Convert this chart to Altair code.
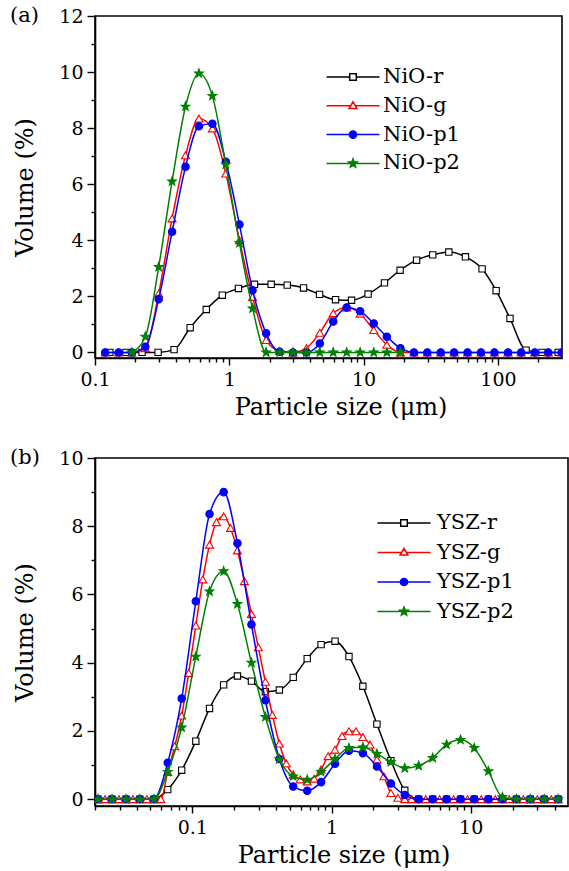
import math
import altair as alt
import pandas as pd

# ---------------- data ----------------
NIO_SERIES = ["NiO-r", "NiO-g", "NiO-p1", "NiO-p2"]
YSZ_SERIES = ["YSZ-r", "YSZ-g", "YSZ-p1", "YSZ-p2"]

nio_r_size = [0.129, 0.17, 0.224, 0.295, 0.388, 0.511, 0.674, 0.887, 1.17, 1.54,
              2.05, 2.70, 3.57, 4.70, 6.18, 8.13, 10.8, 14.3, 18.7, 24.8,
              32.7, 43.1, 57.3, 76.2, 97, 123, 162, 213, 281]
nio_r_vol = [0, 0, 0, 0, 0.1, 0.88, 1.53, 2.04, 2.28, 2.43,
             2.43, 2.4, 2.3, 2.07, 1.88, 1.86, 2.08, 2.48, 2.93, 3.29,
             3.48, 3.58, 3.41, 2.98, 2.2, 1.21, 0.08, 0, 0]

nio_size = [0.119, 0.15, 0.188, 0.237, 0.298, 0.375, 0.472, 0.594, 0.748, 0.942,
            1.19, 1.49, 1.88, 2.37, 2.98, 3.75, 4.72, 5.94, 7.48, 9.42,
            11.9, 14.9, 18.8, 23.7, 29.8, 37.5, 47.2, 59.4, 74.8, 94.2,
            119, 149, 188, 237, 298]
nio_g_vol = [0, 0, 0, 0.15, 2.1, 4.78, 7.03, 8.34, 7.99, 6.38,
             4.0, 1.98, 0.44, 0.05, 0, 0.15, 0.7, 1.4, 1.6, 1.38,
             0.8, 0.27, 0, 0, 0, 0, 0, 0, 0, 0,
             0, 0, 0, 0, 0]
nio_p1_vol = [0, 0, 0, 0.2, 1.9, 4.3, 6.62, 8.07, 8.16, 6.8,
              4.56, 2.22, 0.68, 0.02, 0, 0, 0.32, 1.1, 1.6, 1.47,
              1.03, 0.56, 0.15, 0, 0, 0, 0, 0, 0, 0,
              0, 0, 0, 0, 0]
nio_p2_size = [0.188, 0.237, 0.298, 0.375, 0.472, 0.594, 0.748, 0.942, 1.19, 1.49,
               1.88, 2.37, 2.98, 3.75, 4.72, 5.94, 7.48, 9.42, 11.9, 14.9, 18.8]
nio_p2_vol = [0, 0.56, 3.05, 6.1, 8.77, 9.95, 9.15, 6.7, 3.9, 1.57,
              0, 0, 0, 0, 0, 0, 0, 0, 0, 0, 0]

ysz_size = [0.021, 0.0265, 0.0334, 0.042, 0.053, 0.0666, 0.0839, 0.106, 0.133, 0.168,
            0.211, 0.266, 0.335, 0.422, 0.531, 0.669, 0.842, 1.06, 1.335, 1.68,
            2.12, 2.67, 3.36, 4.23, 5.33, 6.71, 8.45, 10.6, 13.4, 16.9,
            21.3, 26.8, 33.7, 42.5]
ysz_r_vol = [0, 0, 0, 0, 0, 0.28, 0.85, 1.7, 2.66, 3.35,
             3.61, 3.46, 3.15, 3.2, 3.57, 4.12, 4.53, 4.63, 4.18, 3.31,
             2.2, 1.13, 0.26, 0, 0, 0, 0, 0, 0, 0,
             0, 0, 0, 0]
ysz_p1_vol = [0, 0, 0, 0, 0, 1.07, 2.95, 5.8, 8.36, 9.0,
              7.5, 5.12, 2.9, 1.18, 0.37, 0.25, 0.5, 1.04, 1.42, 1.35,
              0.96, 0.46, 0.12, 0, 0, 0, 0, 0, 0, 0,
              0, 0, 0, 0]
ysz_p2_vol = [0, 0, 0, 0, 0, 0.8, 2.1, 4.18, 6.09, 6.68,
              5.72, 4.0, 2.41, 1.17, 0.67, 0.57, 0.8, 1.18, 1.5, 1.52,
              1.33, 1.09, 0.91, 0.98, 1.21, 1.6, 1.74, 1.5, 0.82, 0.06,
              0, 0, 0, 0]
ysz_g_size = [0.021, 0.0236, 0.0265, 0.0297, 0.0334, 0.0374, 0.042, 0.0471, 0.053, 0.0594,
              0.0666, 0.0748, 0.0839, 0.0942, 0.106, 0.119, 0.133, 0.149, 0.168, 0.188,
              0.211, 0.237, 0.266, 0.298, 0.335, 0.376, 0.422, 0.473, 0.531, 0.596,
              0.669, 0.75, 0.842, 0.945, 1.06, 1.19, 1.335, 1.5, 1.68, 1.89,
              2.12, 2.38, 2.67, 3.0, 3.36, 3.77, 4.23, 4.75, 5.33, 5.98,
              6.71, 7.53, 8.45, 9.48, 10.6, 11.9, 13.4, 15.0, 16.9, 18.9,
              21.3, 23.9, 26.8, 30.1, 33.7, 37.9, 42.5]
ysz_g_vol = [0, 0, 0, 0, 0, 0, 0, 0, 0, 0,
             0.8, 1.55, 2.45, 3.7, 5.09, 6.44, 7.46, 8.12, 8.29, 7.95,
             7.29, 6.39, 5.43, 4.45, 3.44, 2.47, 1.63, 1.05, 0.72, 0.58,
             0.52, 0.6, 0.87, 1.26, 1.45, 1.85, 1.99, 1.99, 1.82, 1.6,
             1.16, 0.67, 0.18, 0.04, 0, 0, 0, 0, 0, 0,
             0, 0, 0, 0, 0, 0, 0, 0, 0, 0,
             0, 0, 0, 0, 0, 0, 0]

nio_x_ticks = [0.1, 0.2, 0.3, 0.4, 0.5, 0.6, 0.7, 0.8, 0.9,
               1, 2, 3, 4, 5, 6, 7, 8, 9,
               10, 20, 30, 40, 50, 60, 70, 80, 90,
               100, 200]
ysz_x_ticks = [0.02, 0.03, 0.04, 0.05, 0.06, 0.07, 0.08, 0.09,
               0.1, 0.2, 0.3, 0.4, 0.5, 0.6, 0.7, 0.8, 0.9,
               1, 2, 3, 4, 5, 6, 7, 8, 9,
               10, 20, 30, 40]
nio_y_ticks = list(range(0, 13))
ysz_y_ticks = list(range(0, 11))

# ---------------- styling ----------------
FONT = "DejaVu Serif"
COLORS = ["black", "#ff0000", "#0000ff", "#008000"]


def star_path(r_out, r_in):
    pts = []
    for k in range(10):
        ang = -math.pi / 2 + k * math.pi / 5
        r = r_out if k % 2 == 0 else r_in
        pts.append(f"{r * math.cos(ang):.3f},{r * math.sin(ang):.3f}")
    return "M" + "L".join(pts) + "Z"


STAR = star_path(1.0, 0.42)
MARKERS = [
    dict(shape="square", size=40, fill="white"),
    dict(shape="triangle-up", size=64, fill="white"),
    dict(shape="circle", size=55, fill=COLORS[2]),
    dict(shape=STAR, size=85, fill=COLORS[3]),
]

# legend symbols: a line with the marker in the middle; symbol unit = 10 px
L = 2.65
q = 0.33
tw = 0.236
c = 0.36
LEG_PATHS = [
    f"M{-L},0H{-q}M{q},0H{L}M{-q},{-q}H{q}V{q}H{-q}Z",
    f"M{-L},0H{-tw}M{tw},0H{L}M0,-0.4L0.39,0.26L-0.39,0.26Z",
    f"M{-L},0H{L}M{c},0A{c},{c} 0 1,1 {-c},0A{c},{c} 0 1,1 {c},0Z",
    f"M{-L},0H{L}" + star_path(0.45, 0.19),
]
LEG_FILLS = ["white", "white", COLORS[2], COLORS[3]]


def is_decade(field="datum.value"):
    return f"abs(log({field})/LN10 - round(log({field})/LN10)) < 0.001"


def panel(series, sizes_list, vols_list, xdom, xticks, ydom, yticks,
          width, height, tag, legx, legy, rowpad, laboff):
    x_enc = alt.X(
        "size:Q",
        scale=alt.Scale(type="log", domain=xdom, nice=False),
        axis=alt.Axis(
            values=xticks, format="~g",
            labelExpr=f"{is_decade()} ? datum.label : ''",
            tickSize={"condition": {"test": is_decade(), "value": 7}, "value": 4},
            labelFlush=False, labelOverlap=False, labelBound=False,
            labelPadding=5,
            title="Particle size (μm)",
            titleX=width / 2 + 12, titleY=56, titleBaseline="alphabetic",
            titleAlign="center",
        ),
    )
    y_enc = alt.Y(
        "vol:Q",
        scale=alt.Scale(domain=ydom, nice=False, zero=False),
        axis=alt.Axis(
            values=yticks,
            labelExpr="datum.value % 2 === 0 ? datum.label : ''",
            tickSize={"condition": {"test": "datum.value % 2 === 0", "value": 8}, "value": 4},
            labelFlush=False, labelOverlap=False, labelBound=False,
            labelPadding=4,
            title="Volume (%)",
            titleX=-63, titleY=height / 2, titleBaseline="alphabetic",
            titleAlign="center", titleAngle=270,
        ),
    )
    layers = []
    for i, name in enumerate(series):
        df = pd.DataFrame({"size": sizes_list[i], "vol": vols_list[i]})
        base = alt.Chart(df)
        layers.append(
            base.mark_line(color=COLORS[i], strokeWidth=1.5, interpolate="monotone", clip=True)
            .encode(x=x_enc, y=y_enc)
        )
        m = MARKERS[i]
        layers.append(
            base.mark_point(shape=m["shape"], size=m["size"], filled=True, fill=m["fill"],
                            stroke=COLORS[i], strokeWidth=1.1, opacity=1, clip=True)
            .encode(x=x_enc, y=y_enc)
        )
    leg = alt.Legend(
        orient="none", legendX=legx, legendY=legy, title=None,
        labelFont=FONT, labelFontSize=21, labelColor="black", labelLimit=300,
        symbolSize=400, symbolStrokeWidth=1.5, labelOffset=laboff,
        rowPadding=rowpad, padding=0, symbolOpacity=1,
    )
    leg_df = pd.DataFrame({"series": series})
    layers.append(
        alt.Chart(leg_df).transform_filter("false").mark_point(filled=True, opacity=1)
        .encode(
            shape=alt.Shape("series:N", scale=alt.Scale(domain=series, range=LEG_PATHS), legend=leg),
            stroke=alt.Stroke("series:N", scale=alt.Scale(domain=series, range=COLORS), legend=leg),
            fill=alt.Fill("series:N", scale=alt.Scale(domain=series, range=LEG_FILLS), legend=leg),
        )
    )
    layers.append(
        alt.Chart(pd.DataFrame({"t": [tag]})).mark_text(
            font=FONT, fontSize=21, align="left", baseline="middle", color="black"
        ).encode(text="t:N", x=alt.value(-85), y=alt.value(0))
    )
    return alt.layer(*layers).properties(width=width, height=height)


top = panel(
    NIO_SERIES,
    [nio_r_size, nio_size, nio_size, nio_p2_size],
    [nio_r_vol, nio_g_vol, nio_p1_vol, nio_p2_vol],
    [0.1, 300], nio_x_ticks, [-0.2, 12], nio_y_ticks,
    467, 342, "(a)", 247, 50, 7.8, 19,
)
bottom = panel(
    YSZ_SERIES,
    [ysz_size, ysz_g_size, ysz_size, ysz_size],
    [ysz_r_vol, ysz_g_vol, ysz_p1_vol, ysz_p2_vol],
    [0.02, 50], ysz_x_ticks, [-0.2, 10], ysz_y_ticks,
    473, 348, "(b)", 298, 54, 8.5, 22,
)

chart = (
    alt.vconcat(top, bottom, spacing=100, bounds="flush")
    .resolve_scale(x="independent", y="independent", shape="independent",
                   stroke="independent", fill="independent")
    .resolve_legend(shape="independent", stroke="independent", fill="independent")
    .properties(padding={"left": 9, "top": 4, "right": 0, "bottom": 0}, background="white")
    .configure_view(stroke="black", strokeWidth=1.6)
    .configure_axis(
        grid=False, domainColor="black", domainWidth=1.6, tickColor="black", tickWidth=1.4,
        labelFont=FONT, labelFontSize=19, labelColor="black",
        titleFont=FONT, titleFontSize=24, titleFontWeight="normal", titleColor="black",
    )
)

chart.save("out.html", embed_options={"renderer": "svg", "actions": False})
